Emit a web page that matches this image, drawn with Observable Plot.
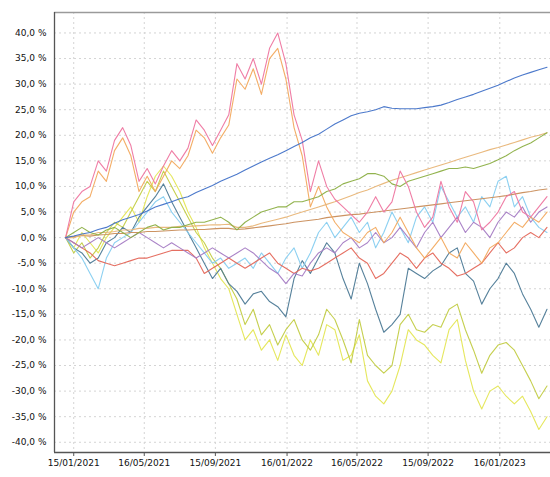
<!DOCTYPE html>
<html>
<head>
<meta charset="utf-8">
<script src="https://cdn.jsdelivr.net/npm/d3@7"></script>
<script src="https://cdn.jsdelivr.net/npm/@observablehq/plot@0.6"></script>
<style>
  html, body { margin: 0; padding: 0; background: #fff; }
  #chart svg { display: block; }
</style>
</head>
<body>
<div id="chart"></div>
<script>
// sampling grid: every 14 days from 01/01/2021
const startDate = "2021-01-01";
const stepDays = 14;

const xTickDates = ["2021-01-15", "2021-05-16", "2021-09-15", "2022-01-16", "2022-05-16", "2022-09-15", "2023-01-16"];
const yTicks = [-40, -35, -30, -25, -20, -15, -10, -5, 0, 5, 10, 15, 20, 25, 30, 35, 40];

const blueTrend = [0,0.3,0.7,1,1.6,2,2.8,3.5,4,4.5,5.2,6,6.5,7,7.6,8,8.8,9.5,10.2,11,11.7,12.4,13.2,14,14.8,15.5,16.2,17,17.8,18.6,19.5,20.2,21.2,22.2,23,23.8,24.3,24.6,25,25.6,25.3,25.2,25.2,25.2,25.4,25.6,25.9,26.4,27,27.5,28,28.6,29.2,29.8,30.5,31.2,31.8,32.3,32.8,33.3];
const pinkSeries = [0,7,9,10,15,13,19,21.5,18,11,13.5,10.5,14,17,15,17.5,23,21,18,21,24,34,31,35,30,37,40,34,24,19,9,15,10,7.5,6,4.5,3,5,8,5,7,13,10,5,2,4,11,6,3,9,7,1.5,3,5,8,9,5,4,6,8];
const orangeSeries = [0,5,7,8,13,11,17,19.5,16,9,12,9,12,15,13.5,16,21,19.5,16.5,19.5,22,31,29,33,28,35,37,31,21.5,16,6,10,6,3,1,0,-1,1,2,-1,1,4,1,-2,-4,-2,0,-3,-4,-1,-3,-5,-2,-1,1,3,2,4,3,5];
const greenTrend = [0,1,2,1,0.5,1.5,2,1,0,1,2,2.5,1.5,2,2,2.5,3,3,3.5,4,3,1.5,3,4,5,5.5,6,6,7,7,7.5,8,9,9.5,10.5,11,11.5,12.5,12.5,12,10.5,10,11,11.5,12,12.5,13,13.5,13.5,13.8,13.5,14,14.5,15.2,16,17,17.8,18.5,19.5,20.5];
const tanTrend = [0,0,0.5,0.5,1,1,1.2,1.5,1.5,1.8,1.8,2,2,2,2.2,2.2,2.3,2.4,2.5,2.5,2.6,2,2,2.3,2.8,3.2,3.6,4,4.5,5,5.5,6,6.5,7,7.6,8.2,8.8,9.3,10,10.6,11.2,11.7,12.2,12.7,13.2,13.7,14.2,14.7,15.2,15.7,16.2,16.7,17.2,17.6,18.1,18.6,19.1,19.6,20,20.5];
const brownTrend = [0,0.2,0.4,0.3,0.5,0.6,0.8,0.8,1,1,1.2,1.2,1.3,1.4,1.5,1.5,1.6,1.6,1.7,1.8,1.8,1.6,1.7,1.9,2.1,2.3,2.5,2.7,3,3.2,3.4,3.6,3.9,4.1,4.3,4.5,4.6,4.8,5,5.2,5.4,5.6,5.8,6,6.2,6.4,6.6,6.8,7,7.2,7.4,7.6,7.8,8,8.2,8.5,8.8,9,9.3,9.5];
const lightBlueSeries = [0,-2,-4,-7,-10,-4,-1,0,1,3,5,7,8,5,3,1,-1,-3,-5,-4,-6,-5,-4,-6,-3,-5,-7,-4,-2,-6,-3,1,3,0,2,4,1,3,-2,1,5,2,-1,4,6,3,10,7,4,6,3,8,6,11,12,6,8,4,2,1];
const slateSeries = [0,-2,-3,-5,-4,-1,0,2,1,4,6,8,10.5,7,4,1,-2,-5,-8,-6,-9,-10.5,-13,-11,-10.5,-12.5,-13.5,-15.5,-8,-4.5,-7,-4,-1,-3,-8,-12,-5,-9,-14,-18.5,-17,-15,-6,-7,-8,-6.5,-5.5,-3,-2,-7,-8.5,-13,-10,-8,-5,-7,-11,-14,-17.5,-14];
const yellowLight = [0,-2,1,-1,-3,0,2,4,6,3,8,12,14,12,9,5,2,-2,-5,-8,-10,-15,-20,-18,-22,-20,-24,-19,-23,-25,-20,-23,-17,-18,-24,-23,-19,-28,-31,-32.5,-30,-25,-18,-20,-21,-23,-24.5,-18,-16,-24,-30,-33.5,-30,-29,-31,-32.5,-31,-34,-37.5,-35];
const yellowOlive = [0,-3,-1,-4,-2,1,3,2,5,8,11,9,13,10,7,4,1,-1,-4,-6,-9,-12,-17,-14,-19,-17,-21,-18,-16,-20,-22,-19,-14,-16,-20,-24.5,-16,-23,-25,-26.5,-25,-17,-15,-18,-18.5,-17,-17.5,-14,-13,-18,-22,-26.5,-23,-21,-20.5,-22,-25,-28,-31.5,-29];
const redSeries = [0,-1,-2,-3,-4.5,-5,-5.5,-5,-4.5,-4,-4,-3.5,-3,-2.5,-2.5,-2.5,-4,-7,-6,-5,-4,-5,-6,-5,-4,-3,-5,-6,-7,-6,-6.5,-6,-5,-4,-3,-2,-4,-5,-8,-7,-5,-3,-4,-6,-4,-3,-5,-6,-7.5,-7,-6,-5,-3,-1,-3,-2,0,1,0,2];
const purpleSeries = [0,-1,-2,-1,0,-1,-2,-1,0,1,0,-1,-2,-1,-2,-3,-4,-3,-2,-3,-4,-3,-2,-3,-4.5,-6,-7,-9,-7,-7.5,-5,-3,-2,-3,-1,0,-2,-1,1,-1,0,2,0,-2,1,3,0,2,4,1,3,2,0,3,5,4,6,3,5,6];

const seriesNames = ["yellowLight","yellowOlive","slate","lightBlue","red","purple","brown","orange","tan","green","pink","blue"];
const seriesColors = ["#e4e654","#c2cc44","#4d7a96","#86cdf0","#e4675a","#a57cc4","#c98d5a","#f2a95e","#e8b577","#8caf45","#ee76a0","#4272c8"];
const seriesValues = [yellowLight, yellowOlive, slateSeries, lightBlueSeries, redSeries, purpleSeries, brownTrend, orangeSeries, tanTrend, greenTrend, pinkSeries, blueTrend];

const t0 = new Date(startDate + "T00:00:00Z");
const rows = [];
seriesNames.forEach((name, k) => {
  seriesValues[k].forEach((v, i) => {
    rows.push({series: name, date: d3.utcDay.offset(t0, i * stepDays), value: v});
  });
});

const xDomain = [new Date("2020-12-13T00:00:00Z"), new Date("2023-04-13T00:00:00Z")];
const xTicks = xTickDates.map(d => new Date(d + "T00:00:00Z"));
const fmtDate = d3.utcFormat("%d/%m/%Y");
const fmtPct = d => d.toFixed(1).replace(".", ",") + " %";

const chart = Plot.plot({
  width: 550,
  height: 477,
  marginLeft: 54,
  marginRight: 0,
  marginTop: 12,
  marginBottom: 25,
  style: {fontFamily: "DejaVu Sans, sans-serif", fontSize: "9px", color: "#111", background: "#fff"},
  x: {type: "utc", domain: xDomain, label: null},
  y: {domain: [-42, 44], label: null},
  color: {domain: seriesNames, range: seriesColors},
  marks: [
    Plot.gridY(yTicks, {stroke: "#d4d4d4", strokeOpacity: 1, strokeDasharray: "2,3"}),
    Plot.gridX(xTicks, {stroke: "#d4d4d4", strokeOpacity: 1, strokeDasharray: "2,3"}),
    Plot.ruleY([44], {stroke: "#9a9a9a", strokeWidth: 1.3}),
    Plot.lineY(rows, {x: "date", y: "value", z: "series", stroke: "series", strokeWidth: 1.1, strokeOpacity: 0.95}),
    Plot.ruleY([-42], {stroke: "#555", strokeWidth: 1.3}),
    Plot.ruleX([xDomain[0]], {stroke: "#555", strokeWidth: 1.3}),
    Plot.axisY(yTicks, {tickSize: 0, tickPadding: 8, tickFormat: fmtPct, fill: "#111", label: null}),
    Plot.axisX(xTicks, {tickSize: 4, tickPadding: 3, tickFormat: fmtDate, fill: "#111", stroke: "#555", label: null})
  ]
});
document.getElementById("chart").appendChild(chart);
</script>
</body>
</html>
